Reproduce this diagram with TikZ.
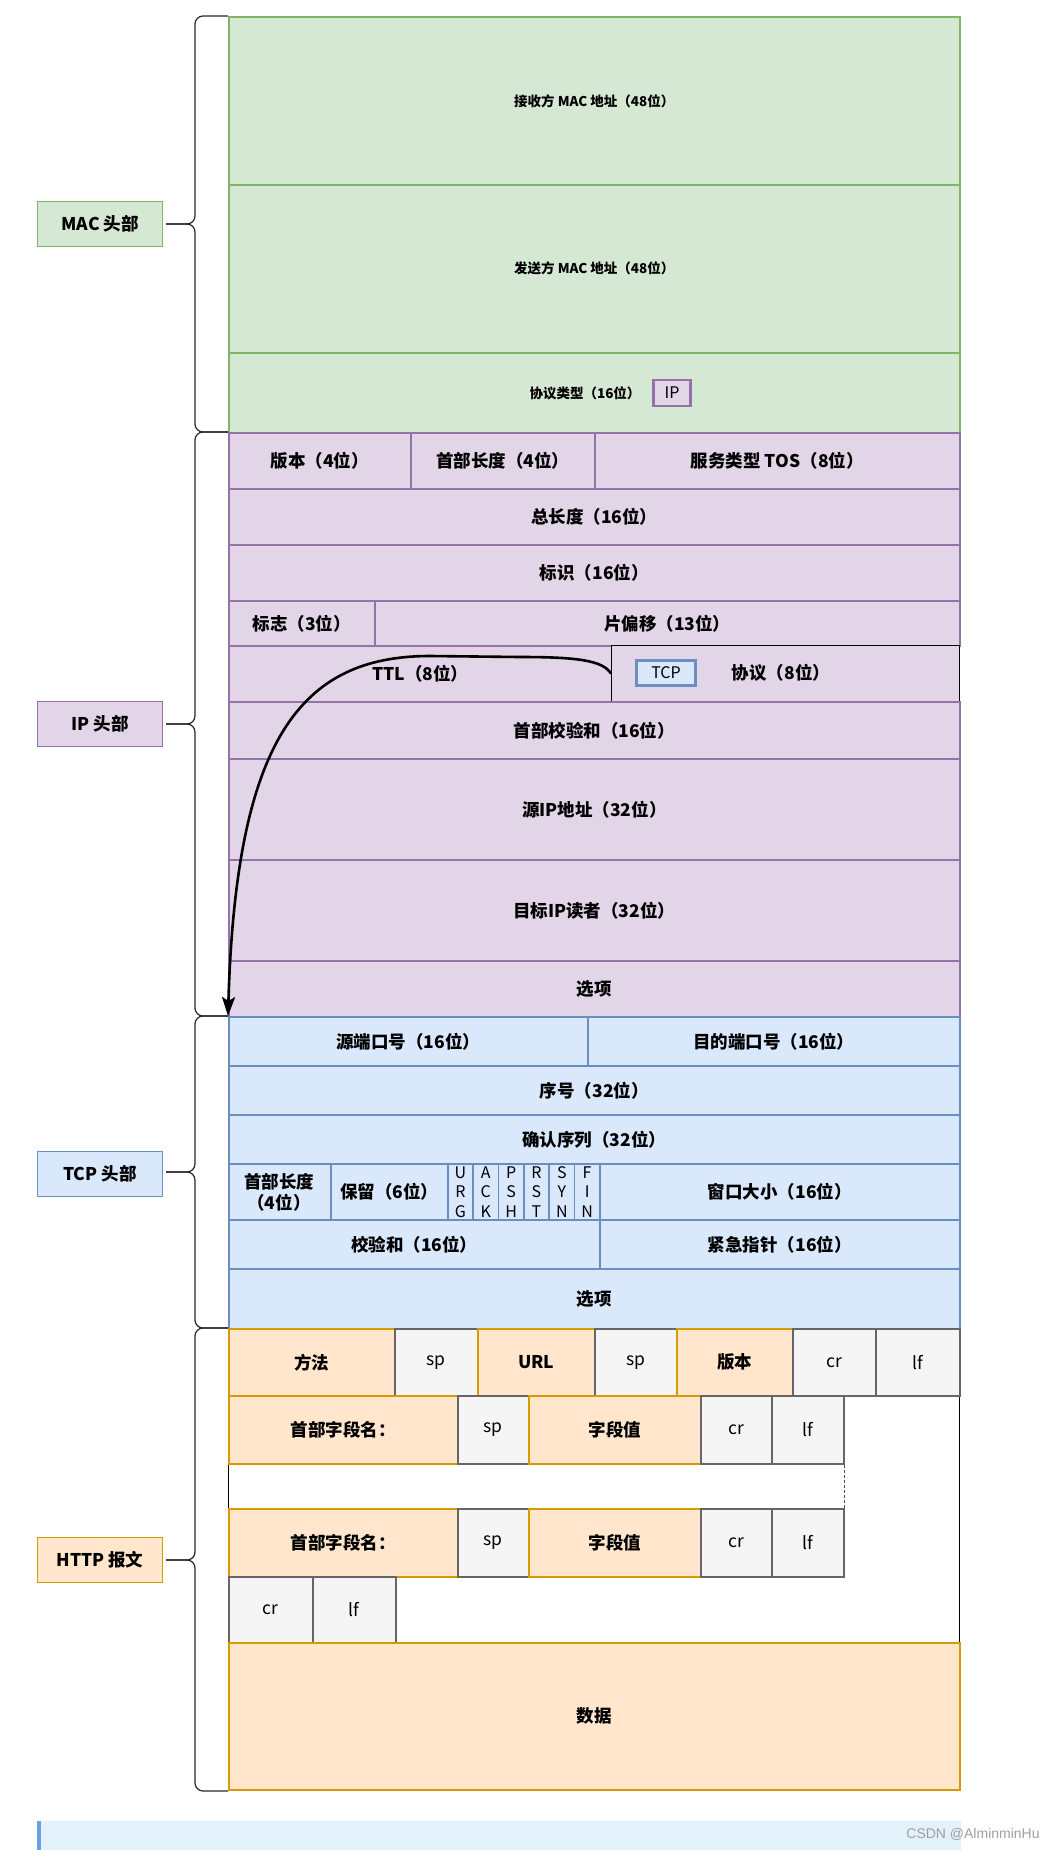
\documentclass[tikz,border=0pt]{standalone}
\usepackage{fontspec}
\setmainfont{Noto Sans CJK SC}
\newfontfamily\wmfont{Liberation Sans}
\usetikzlibrary{arrows.meta,calc}
\definecolor{macfill}{HTML}{D5E8D4}\definecolor{macline}{HTML}{82B366}
\definecolor{ipfill}{HTML}{E1D5E7}\definecolor{ipline}{HTML}{9673A6}
\definecolor{tcpfill}{HTML}{DAE8FC}\definecolor{tcpline}{HTML}{6C8EBF}
\definecolor{httpfill}{HTML}{FFE6CC}\definecolor{httpline}{HTML}{D79B00}
\definecolor{ctlfill}{HTML}{F5F5F5}\definecolor{ctlline}{HTML}{666666}
\definecolor{notefill}{HTML}{E3F1FA}\definecolor{notebar}{HTML}{6D9EE8}
\tikzset{
  fld/.style={draw,line width=1.6pt,inner sep=0pt,font=\fontsize{17.5}{21}\selectfont\bfseries},
  macf/.style={fld,fill=macfill,draw=macline,font=\fontsize{13.5}{16}\selectfont\bfseries},
  ipf/.style={fld,fill=ipfill,draw=ipline},
  tcpf/.style={fld,fill=tcpfill,draw=tcpline},
  httpf/.style={fld,fill=httpfill,draw=httpline},
  ctlf/.style={fld,fill=ctlfill,draw=ctlline,font=\fontsize{17.5}{21}\selectfont},
  lbl/.style={inner sep=0pt,font=\fontsize{17.5}{21}\selectfont\bfseries},
  flagtxt/.style={inner sep=0pt,font=\fontsize{16}{19}\selectfont},
  grp/.style={draw,line width=1.6pt,minimum width=125pt,minimum height=45pt,font=\fontsize{17.5}{21}\selectfont\bfseries},
  tag/.style={draw,line width=2.6pt,inner sep=0pt,font=\fontsize{16}{19}\selectfont},
  brc/.style={draw=black!85,line width=1.2pt,rounded corners=8pt},
  flow/.style={line width=2.6pt,-{Stealth[length=19pt,width=13pt,inset=4pt]}},
}
% one header field: style, name, left, top, right, bottom, text
\newcommand\fieldbox[7]{%
  \pgfmathsetmacro\fw{(#5)-(#3)}\pgfmathsetmacro\fh{(#6)-(#4)}%
  \node[#1,anchor=north west,minimum width=\fw pt,minimum height=\fh pt] (#2) at ({#3},{#4}) {#7};}
\newcommand\grpbrace[3]{%
  \draw[brc] (228,#1) -- (195,#1) -- (195,#3) -- (166,#3);
  \draw[brc] (228,#2) -- (195,#2) -- (195,#3) -- (166,#3);}
\begin{document}
\begin{tikzpicture}[x=1pt,y=-1pt]
\useasboundingbox (0,0) rectangle (1060,1850);
% MAC
\fieldbox{macf}{dstmac}{228}{16}{959}{184}{接收方 MAC 地址（48位）}
\fieldbox{macf}{srcmac}{228}{184}{959}{352}{发送方 MAC 地址（48位）}
\fieldbox{macf}{ethtype}{228}{352}{959}{432}{}
\node[lbl,font=\fontsize{13.5}{16}\selectfont\bfseries] (ethtypetxt) at (585,393) {协议类型（16位）};
\node[tag,fill=ipfill,draw=ipline,minimum width=37pt,minimum height=26pt] (iptag) at (672,393) {IP};
% IP
\fieldbox{ipf}{ver}{228}{432}{410}{488}{版本（4位）}
\fieldbox{ipf}{hlen}{410}{432}{594}{488}{首部长度（4位）}
\fieldbox{ipf}{tos}{594}{432}{959}{488}{服务类型 TOS（8位）}
\fieldbox{ipf}{totlen}{228}{488}{959}{544}{总长度（16位）}
\fieldbox{ipf}{ident}{228}{544}{959}{600}{标识（16位）}
\fieldbox{ipf}{ipflags}{228}{600}{374}{645}{标志（3位）}
\fieldbox{ipf}{fragoff}{374}{600}{959}{645}{片偏移（13位）}
\fieldbox{ipf}{ttl}{228}{645}{611}{701}{TTL（8位）}
\fieldbox{ipf,draw=black,line width=1.3pt}{proto}{611}{645}{959}{701}{}
\node[lbl] (prototxt) at (781,673) {协议（8位）};
\node[tag,fill=tcpfill,draw=tcpline,minimum width=59pt,minimum height=25pt] (tcptag) at (666,673) {TCP};
\fieldbox{ipf}{ipcksum}{228}{701}{959}{758}{首部校验和（16位）}
\fieldbox{ipf}{srcip}{228}{758}{959}{859}{源IP地址（32位）}
\fieldbox{ipf}{dstip}{228}{859}{959}{960}{目标IP读者（32位）}
\fieldbox{ipf}{ipopt}{228}{960}{959}{1016}{选项}
% TCP
\fieldbox{tcpf}{sport}{228}{1016}{587}{1065}{源端口号（16位）}
\fieldbox{tcpf}{dport}{587}{1016}{959}{1065}{目的端口号（16位）}
\fieldbox{tcpf}{seq}{228}{1065}{959}{1114}{序号（32位）}
\fieldbox{tcpf}{ack}{228}{1114}{959}{1163}{确认序列（32位）}
\fieldbox{tcpf}{doff}{228}{1163}{330}{1219}{}
\node[lbl] (dofftop) at (279,1182) {首部长度};
\node[lbl] (doffbot) at (279,1203) {（4位）};
\fieldbox{tcpf}{rsv}{330}{1163}{447}{1219}{保留（6位）}
\foreach \a/\b/\c [count=\i from 0] in {U/R/G,A/C/K,P/S/H,R/S/T,S/Y/N,F/I/N}{
  \fieldbox{tcpf}{fl\i}{447+25.33*\i}{1163}{447+25.33*(\i+1)}{1219}{}
  \node[flagtxt] (fl\i a) at ($(fl\i.center)+(0,-19)$) {\a};
  \node[flagtxt] (fl\i b) at (fl\i.center) {\b};
  \node[flagtxt] (fl\i c) at ($(fl\i.center)+(0,20)$) {\c};
}
\fieldbox{tcpf}{win}{599}{1163}{959}{1219}{窗口大小（16位）}
\fieldbox{tcpf}{tcksum}{228}{1219}{599}{1268}{校验和（16位）}
\fieldbox{tcpf}{urgptr}{599}{1219}{959}{1268}{紧急指针（16位）}
\fieldbox{tcpf}{topt}{228}{1268}{959}{1328}{选项}
% HTTP
\fieldbox{draw=black,line width=1.3pt,fill=white,inner sep=0pt}{httpbox}{228}{1328}{959}{1789}{}
\fieldbox{httpf}{meth}{228}{1328}{394}{1395}{方法}
\fieldbox{ctlf}{sp1}{394}{1328}{477}{1395}{sp}
\fieldbox{httpf}{url}{477}{1328}{594}{1395}{URL}
\fieldbox{ctlf}{sp2}{594}{1328}{676}{1395}{sp}
\fieldbox{httpf}{hver}{676}{1328}{792}{1395}{版本}
\fieldbox{ctlf}{cr1}{792}{1328}{875}{1395}{cr}
\fieldbox{ctlf}{lf1}{875}{1328}{959}{1395}{lf}
\fieldbox{httpf}{hname1}{228}{1395}{457}{1463}{首部字段名：}
\fieldbox{ctlf}{sp3}{457}{1395}{528}{1463}{sp}
\fieldbox{httpf}{hval1}{528}{1395}{700}{1463}{字段值}
\fieldbox{ctlf}{cr2}{700}{1395}{771}{1463}{cr}
\fieldbox{ctlf}{lf2}{771}{1395}{843}{1463}{lf}
\fieldbox{httpf}{hname2}{228}{1508}{457}{1576}{首部字段名：}
\fieldbox{ctlf}{sp4}{457}{1508}{528}{1576}{sp}
\fieldbox{httpf}{hval2}{528}{1508}{700}{1576}{字段值}
\fieldbox{ctlf}{cr3}{700}{1508}{771}{1576}{cr}
\fieldbox{ctlf}{lf3}{771}{1508}{843}{1576}{lf}
\draw[densely dashed,black!70,line width=0.8pt] (lf2.south east) -- (lf3.north east);
\fieldbox{ctlf}{cr4}{228}{1576}{312}{1642}{cr}
\fieldbox{ctlf}{lf4}{312}{1576}{395}{1642}{lf}
\fieldbox{httpf}{body}{228}{1642}{959}{1789}{数据}
% braces and group labels
\grpbrace{16}{432}{224}
\grpbrace{432}{1016}{724}
\grpbrace{1016}{1328}{1172}
\grpbrace{1328}{1791}{1560}
\node[grp,fill=macfill,draw=macline] (maclbl) at (100,224) {MAC 头部};
\node[grp,fill=ipfill,draw=ipline] (iplbl) at (100,724) {IP 头部};
\node[grp,fill=tcpfill,draw=tcpline] (tcplbl) at (100,1174) {TCP 头部};
\node[grp,fill=httpfill,draw=httpline] (httplbl) at (100,1560) {HTTP 报文};
% protocol field points to the TCP header
\draw[flow] (proto.west) .. controls (603,660) and (575,657) .. (520,657) -- (430,656)
  .. controls (300,656) and (236,740) .. (sport.north west);
% page footer
\fill[notefill] (37,1821) rectangle (961,1850);
\fill[notebar] (37,1821) rectangle (41,1850);
\node[font=\wmfont\fontsize{14}{16}\selectfont,text=gray!75] (wm) at (973,1834) {CSDN @AlminminHu};
\end{tikzpicture}
\end{document}
